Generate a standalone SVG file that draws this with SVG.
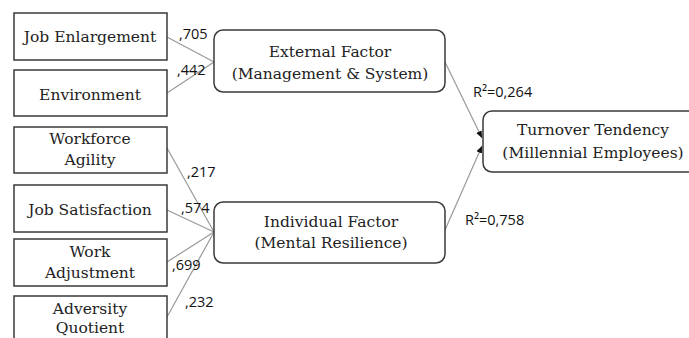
<svg xmlns="http://www.w3.org/2000/svg" width="689" height="338" viewBox="0 0 689 338">
<style>
.box{fill:#fff;stroke:#3a3a3a;stroke-width:1.5}
.t{font-family:"DejaVu Serif",serif;font-size:15.5px;fill:#222;text-anchor:middle}
.lab{font-family:"Open Sans","Liberation Sans",sans-serif;font-size:14.5px;fill:#111}
.c{stroke:#999;stroke-width:1.2;fill:none}
</style>
<defs>
<marker id="ah" markerWidth="8" markerHeight="8" refX="7" refY="4" orient="auto" markerUnits="userSpaceOnUse">
<path d="M0,1 L7,4 L0,7 z" fill="#111"/>
</marker>
</defs>
<rect width="689" height="338" fill="#fff"/>
<g id="connectors">
<line class="c" x1="167" y1="37" x2="214" y2="62"/>
<line class="c" x1="167" y1="93" x2="214" y2="62"/>
<line class="c" x1="167" y1="148" x2="214" y2="232"/>
<line class="c" x1="167" y1="210" x2="214" y2="232"/>
<line class="c" x1="167" y1="262" x2="214" y2="232"/>
<line class="c" x1="167" y1="317" x2="214" y2="232"/>
<line class="c" x1="445" y1="62" x2="482" y2="138" marker-end="url(#ah)"/>
<line class="c" x1="445" y1="230" x2="482" y2="146" marker-end="url(#ah)"/>
<text class="lab" x="179" y="39">,705</text>
<text class="lab" x="177" y="75">,442</text>
<text class="lab" x="187" y="177">,217</text>
<text class="lab" x="181" y="213">,574</text>
<text class="lab" x="172" y="270">,699</text>
<text class="lab" x="185" y="307">,232</text>
<text class="lab" x="473" y="97">R²=0,264</text>
<text class="lab" x="465" y="225">R²=0,758</text>
</g>
<g id="job-enlargement"><rect class="box" x="14" y="13" width="153" height="47"/><text class="t" x="90" y="42">Job Enlargement</text></g>
<g id="environment"><rect class="box" x="14" y="70" width="153" height="46"/><text class="t" x="90" y="100">Environment</text></g>
<g id="workforce-agility"><rect class="box" x="14" y="127" width="153" height="46"/><text class="t" x="90" y="144">Workforce</text><text class="t" x="90" y="165">Agility</text></g>
<g id="job-satisfaction"><rect class="box" x="14" y="185" width="153" height="47"/><text class="t" x="90" y="215">Job Satisfaction</text></g>
<g id="work-adjustment"><rect class="box" x="14" y="239" width="153" height="47"/><text class="t" x="90" y="257">Work</text><text class="t" x="90" y="278">Adjustment</text></g>
<g id="adversity-quotient"><rect class="box" x="14" y="296" width="153" height="50"/><text class="t" x="90" y="314">Adversity</text><text class="t" x="90" y="333">Quotient</text></g>
<g id="external-factor"><rect class="box" x="214" y="30" width="231" height="62" rx="9"/><text class="t" x="330" y="57">External Factor</text><text class="t" x="330" y="79">(Management &amp; System)</text></g>
<g id="individual-factor"><rect class="box" x="214" y="202" width="231" height="61" rx="9"/><text class="t" x="331" y="227">Individual Factor</text><text class="t" x="331" y="248">(Mental Resilience)</text></g>
<g id="turnover-tendency"><rect class="box" x="483" y="111" width="215" height="61" rx="9"/><text class="t" x="593" y="135">Turnover Tendency</text><text class="t" x="593" y="158">(Millennial Employees)</text></g>
</svg>
